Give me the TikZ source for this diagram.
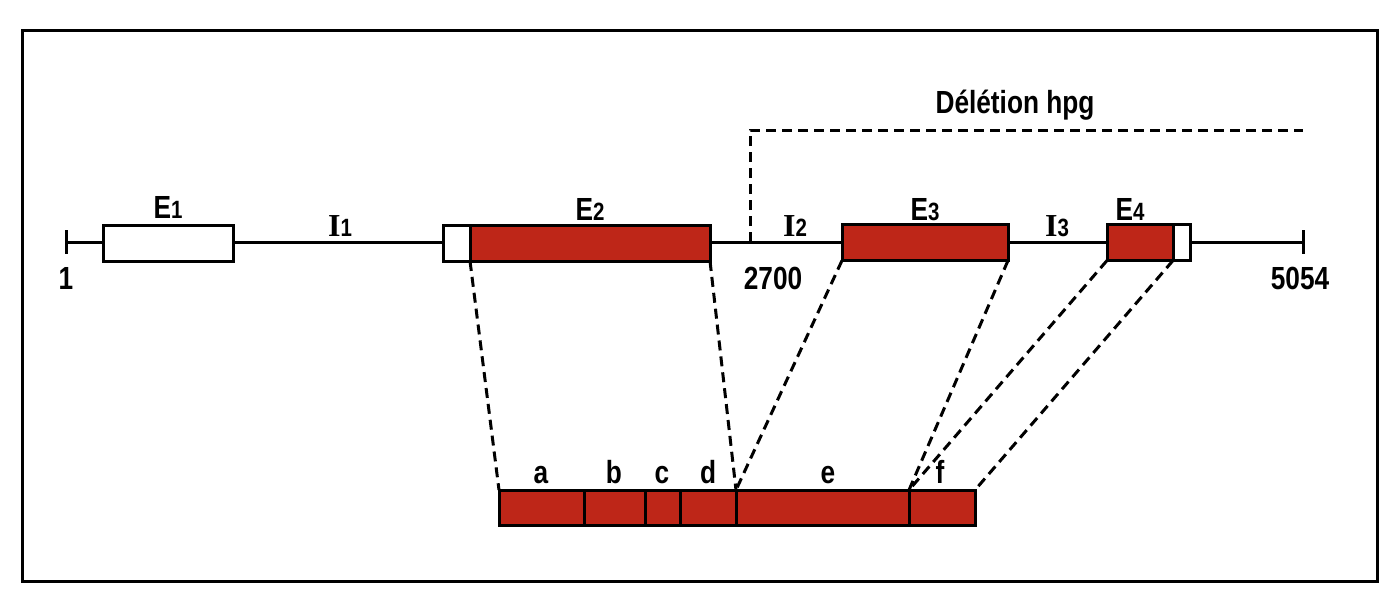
\documentclass[tikz,border=0pt]{standalone}
\usepackage{fontspec}
\usetikzlibrary{calc}
\setmainfont{Liberation Sans}[FakeStretch=0.82]
\newfontfamily\serifI{Liberation Serif}
\definecolor{exred}{RGB}{190,38,24}
\newcommand{\subn}[1]{{\fontsize{12.5}{12}\selectfont #1}}
\begin{document}
\begin{tikzpicture}[x=0.5pt,y=-0.5pt,
  lbl/.style={font=\bfseries\fontsize{16}{18}\selectfont, inner sep=0pt},
  boxw/.style={draw=black, line width=1.5pt, fill=white, minimum height=18pt, inner sep=0pt, outer sep=0pt},
  boxr/.style={draw=black, line width=1.5pt, fill=exred, minimum height=18pt, inner sep=0pt, outer sep=0pt},
  seg/.style={draw=black, line width=1.5pt, fill=exred, minimum height=17.5pt, inner sep=0pt, outer sep=0pt},
  dsh/.style={line width=1.5pt, dash pattern=on 5pt off 3pt},
  mainl/.style={line width=1.5pt}]
\useasboundingbox (0,0) rectangle (1400,605);
\draw[line width=1.5pt] (22,30) rectangle (1377,581);
% main line and ticks
\coordinate (L) at (66,242);
\coordinate (R) at (1303,242);
\draw[mainl] (L) -- (R);
\draw[mainl] ($(L)+(0,-12)$) -- ($(L)+(0,12)$);
\draw[mainl] ($(R)+(0,-12)$) -- ($(R)+(0,12)$);
% deletion
\coordinate (d0) at (750,242);
\coordinate (d1) at (750,130);
\coordinate (d2) at (1303,130);
\draw[dsh] (d0) -- (d1) -- (d2);
\node[lbl] (del) at (1015,105) {Délétion hpg};
% exons
\node[boxw, minimum width=65pt] (E1) at (168,243.5) {};
\node[boxw, minimum width=13.5pt] (E2w) at (456.5,243) {};
\node[boxr, minimum width=120pt] (E2) at (590,243) {};
\node[boxr, minimum width=83pt] (E3) at (925,242.5) {};
\node[boxr, minimum width=33pt] (E4) at (1140,242.5) {};
\node[boxw, minimum width=8.5pt] (E4w) at (1181.5,242.5) {};
% labels
\node[lbl, anchor=base] (lE1) at (168,218) {E\subn{1}};
\node[lbl, anchor=base] (lE2) at (590,220) {E\subn{2}};
\node[lbl, anchor=base] (lE3) at (925,220) {E\subn{3}};
\node[lbl, anchor=base] (lE4) at (1130,220) {E\subn{4}};
\node[lbl, anchor=base] (lI1) at (340,236) {{\serifI I}\subn{1}};
\node[lbl, anchor=base] (lI2) at (795,236) {{\serifI I}\subn{2}};
\node[lbl, anchor=base] (lI3) at (1057,236) {{\serifI I}\subn{3}};
\node[lbl] (n1) at (66,278) {1};
\node[lbl] (n2700) at (773,278) {2700};
\node[lbl] (n5054) at (1300,278) {5054};
% bottom segments
\node[seg, minimum width=42.5pt] (a) at (541.5,507.5) {};
\node[seg, minimum width=30.5pt] (b) at (614.5,507.5) {};
\node[seg, minimum width=17.5pt] (c) at (662.5,507.5) {};
\node[seg, minimum width=28pt] (d) at (708,507.5) {};
\node[seg, minimum width=86.5pt] (e) at (822.5,507.5) {};
\node[seg, minimum width=33pt] (f) at (942,507.5) {};
\foreach \s/\x in {a/541,b/614,c/662,d/708,e/828,f/940}
  \node[lbl, anchor=base] (l\s) at (\x,483) {\s};
% connectors
\draw[dsh] (E2.south west) -- (a.north west);
\draw[dsh] (E2.south east) -- (d.north east);
\draw[dsh] (E3.south west) -- (e.north west);
\draw[dsh] (E3.south east) -- (e.north east);
\draw[dsh] (E4.south west) -- (f.north west);
\draw[dsh] (E4.south east) -- (f.north east);
\end{tikzpicture}
\end{document}
